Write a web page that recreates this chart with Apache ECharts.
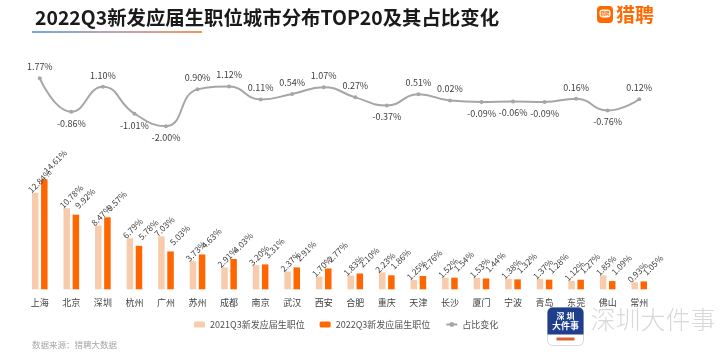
<!DOCTYPE html>
<html>
<head>
<meta charset="utf-8">
<script src="https://cdn.jsdelivr.net/npm/echarts@6/dist/echarts.min.js"></script>
<style>
html,body{margin:0;padding:0;background:#fff;}
#c{width:727px;height:358px;}
</style>
</head>
<body>
<div id="c"></div>
<script>
var cities = ['上海','北京','深圳','杭州','广州','苏州','成都','南京','武汉','西安','合肥','重庆','天津','长沙','厦门','宁波','青岛','东莞','佛山','常州'];
var share2021 = [12.84,10.78,8.47,6.79,7.03,3.73,2.91,3.20,2.37,1.70,1.83,2.23,1.25,1.52,1.53,1.38,1.37,1.12,1.85,0.93];
var share2022 = [14.61,9.92,9.57,5.78,5.03,4.63,4.03,3.31,2.91,2.77,2.10,1.86,1.76,1.54,1.44,1.32,1.28,1.27,1.09,1.05];
var change = [1.77,-0.86,1.10,-1.01,-2.00,0.90,1.12,0.11,0.54,1.07,0.27,-0.37,0.51,0.02,-0.09,-0.06,-0.09,0.16,-0.76,0.12];
var seriesNames = ['2021Q3新发应届生职位','2022Q3新发应届生职位','占比变化'];
var titleText = '2022Q3新发应届生职位城市分布TOP20及其占比变化';
var sourceText = '数据来源：猎聘大数据';

var FONT = '"Noto Sans CJK SC", "Noto Sans", sans-serif';
var chart = echarts.init(document.getElementById('c'), null, {renderer:'canvas'});

var lineData = change.map(function(v){
  return {value:v, label:{position: v >= 0 ? 'top' : 'bottom'}};
});

function barLabel(dx){
  return {
    show:true, position:['50%', -7], rotate:45, align:'left', verticalAlign:'middle',
    offset:[dx,0], fontSize:8.5, color:'#404040', fontFamily:FONT,
    formatter:function(p){return p.value.toFixed(2)+'%';}
  };
}

var option = {
  backgroundColor:'#ffffff',
  animation:false,
  textStyle:{fontFamily:FONT},
  title:{
    text:titleText, left:30, top:3,
    textStyle:{fontSize:19.4, fontWeight:'bold', color:'#1a1a1a', fontFamily:FONT}
  },
  legend:{
    data:seriesNames, left:189, top:315,
    itemWidth:11, itemHeight:6, itemGap:15,
    textStyle:{fontSize:9, color:'#505050', fontFamily:FONT}
  },
  grid:[
    {left:24, right:72, top:69, height:63.6},
    {left:24, right:72, top:176.4, height:112.9}
  ],
  xAxis:[
    {type:'category', gridIndex:0, data:cities, show:false},
    {type:'category', gridIndex:1, data:cities,
     axisLine:{show:false}, axisTick:{show:false},
     axisLabel:{fontSize:9, color:'#404040', margin:9, interval:0, fontFamily:FONT}}
  ],
  yAxis:[
    {type:'value', gridIndex:0, min:-2.5, max:2.5, show:false},
    {type:'value', gridIndex:1, min:0, max:15, show:false}
  ],
  series:[
    {name:seriesNames[0], type:'bar', xAxisIndex:1, yAxisIndex:1, data:share2021,
     barWidth:6.5, barGap:'40%', itemStyle:{color:'#F8CBAD'}, label:barLabel(-8)},
    {name:seriesNames[1], type:'bar', xAxisIndex:1, yAxisIndex:1, data:share2022,
     barWidth:6.5, itemStyle:{color:'#FF6600'}, label:barLabel(1)},
    {name:seriesNames[2], type:'line', xAxisIndex:0, yAxisIndex:0, data:lineData,
     smooth:0.5, symbol:'circle', symbolSize:4,
     lineStyle:{color:'#A6A6A6', width:2}, itemStyle:{color:'#A6A6A6'},
     label:{show:true, distance:5, fontSize:9, color:'#404040', fontFamily:FONT,
       formatter:function(p){return p.value.toFixed(2)+'%';}}}
  ],
  graphic:[
    {type:'rect', left:32, top:31, shape:{width:170, height:2},
     style:{fill:new echarts.graphic.LinearGradient(0,0,1,0,[
       {offset:0,color:'#6FA8DC'},{offset:0.5,color:'#C4A3B8'},{offset:1,color:'#F4955A'}])}},
    {type:'group', left:597, top:5, children:[
      {type:'rect', shape:{x:0,y:0,width:16,height:17,r:4}, style:{fill:'#FF6A00'}},
      {type:'rect', shape:{x:2.5,y:3.5,width:11,height:8,r:3}, style:{fill:'#ffffff'}},
      {type:'text', style:{x:8,y:7.5,text:'猎聘',fontSize:4.5,fill:'#FF6A00',align:'center',verticalAlign:'middle',fontFamily:FONT,fontWeight:'bold'}},
      {type:'text', style:{x:19,y:8.5,text:'猎聘',fontSize:19,fill:'#FF6A00',verticalAlign:'middle',fontFamily:FONT,fontWeight:'bold'}}
    ]},
    {type:'text', left:32, top:341, style:{text:sourceText, fontSize:8.5, fill:'#A6A6A6', fontFamily:FONT}},
    {type:'group', left:547, top:307, children:[
      {type:'rect', shape:{x:0,y:0,width:36,height:38,r:5}, style:{fill:'#ffffff', stroke:'#d8d8d8', lineWidth:1}},
      {type:'rect', shape:{x:0,y:0,width:36,height:27,r:[5,5,0,0]}, style:{fill:'#1F3F8C'}},
      {type:'text', style:{x:18,y:8,text:'深 圳',fontSize:8,fill:'#ffffff',align:'center',verticalAlign:'middle',fontFamily:FONT,fontWeight:'bold'}},
      {type:'text', style:{x:18,y:18,text:'大件事',fontSize:9,fill:'#ffffff',align:'center',verticalAlign:'middle',fontFamily:FONT,fontWeight:'bold'}},
      {type:'rect', shape:{x:9,y:30,width:18,height:3}, style:{fill:'#E0602E'}},
      {type:'text', style:{x:43,y:12,text:'深圳大件事',fontSize:25,fill:'#D9D9D9',verticalAlign:'middle',fontFamily:FONT,fontWeight:300}}
    ]}
  ]
};
chart.setOption(option);
</script>
</body>
</html>
